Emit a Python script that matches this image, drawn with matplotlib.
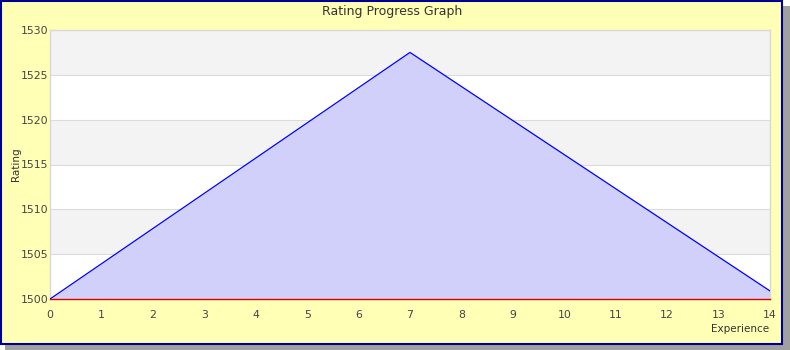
import matplotlib
matplotlib.use("Agg")
import matplotlib.pyplot as plt
from matplotlib.patches import Rectangle

# Data
experience = [0, 7, 14]
rating = [1500, 1527.5, 1500.9]
y_ticks = [1500, 1505, 1510, 1515, 1520, 1525, 1530]
x_ticks = list(range(0, 15))

W, H = 790, 350
fig = plt.figure(figsize=(W / 100, H / 100), dpi=100)
fig.patch.set_facecolor("white")

# shadow + yellow frame
fig.patches.append(Rectangle((5 / W, 0), 785 / W, (H - 6) / H, transform=fig.transFigure,
                             facecolor="#a0a0a0", edgecolor="none", zorder=-2))
fig.patches.append(Rectangle((1 / W, 6 / H), 781 / W, (H - 7) / H, transform=fig.transFigure,
                             facecolor="#ffffb5", edgecolor="#000090", linewidth=1.5, zorder=-1))

ax = fig.add_axes([50 / W, 1 - 299 / H, 720 / W, 269 / H])
ax.set_facecolor("white")
for i in range(0, len(y_ticks) - 1):
    if i % 2 == 1:
        ax.axhspan(y_ticks[i], y_ticks[i + 1], color="#f3f3f3", zorder=0, linewidth=0)
for t in y_ticks[1:-1]:
    ax.axhline(t, color="#dcdcdc", linewidth=0.8, zorder=1)

ax.fill_between(experience, rating, 1500, color="#d0d0fb", zorder=2, linewidth=0)
ax.plot(experience, rating, color="#0000ff", linewidth=0.9, zorder=3)
ax.axhline(1500, color="#dd0000", linewidth=1.0, zorder=5, clip_on=False)

ax.set_xlim(0, 14)
ax.set_ylim(1500, 1530)
ax.set_xticks(x_ticks)
ax.set_yticks(y_ticks)
ax.tick_params(length=0, labelsize=7.8, colors="#444444")
ax.tick_params(axis="y", pad=1)
ax.tick_params(axis="x", pad=8)
for s in ax.spines.values():
    s.set_color("#d8d8d8")
    s.set_linewidth(1)
ax.spines["bottom"].set_visible(False)

fig.text(392 / W, 1 - 11 / H, "Rating Progress Graph", ha="center", va="center",
         fontsize=9, color="#333333")
fig.text(16 / W, 1 - 164 / H, "Rating", rotation=90, ha="center", va="center",
         fontsize=7.5, color="#333333")
fig.text(769 / W, 1 - 329 / H, "Experience", ha="right", va="center",
         fontsize=7.5, color="#333333")

fig.savefig("out.png", dpi=100, facecolor=fig.get_facecolor())
